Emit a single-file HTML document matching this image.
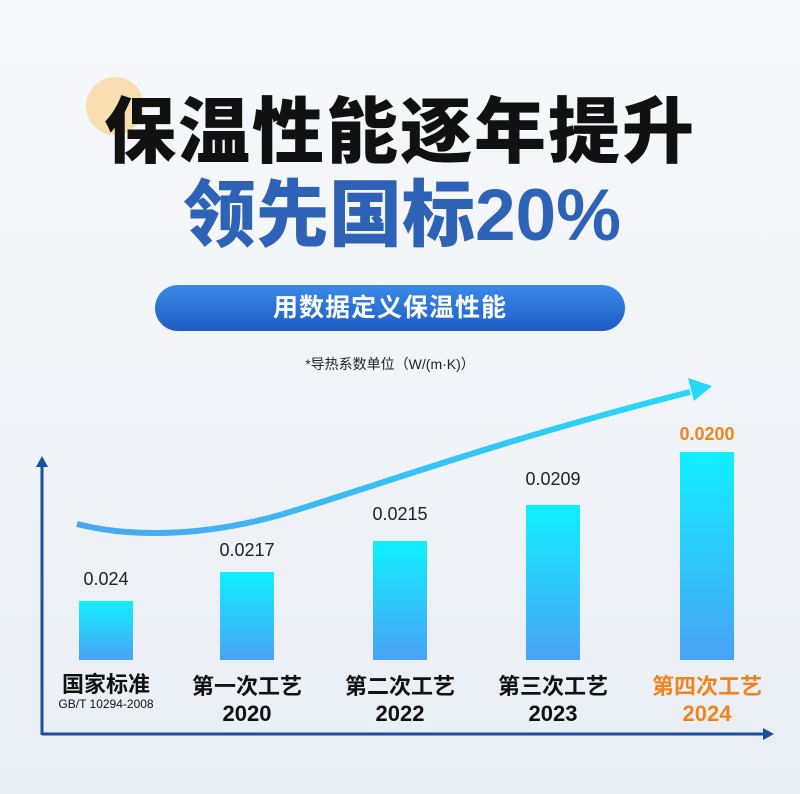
<!DOCTYPE html>
<html><head><meta charset="utf-8"><style>
html,body{margin:0;padding:0}
body{width:800px;height:794px;position:relative;overflow:hidden;background:linear-gradient(180deg,#f7f8fa 0%,#f1f4f8 50%,#e9eef5 100%);font-family:"Liberation Sans","Noto Sans CJK SC",sans-serif}
.a{position:absolute;white-space:nowrap}
.c{text-align:center;transform:translateX(-50%)}
.bar{position:absolute;width:54px;bottom:134px;background:linear-gradient(180deg,#0ff0fe,#4aa2f6)}
.v{font-size:18px;color:#222}
.cat{font-size:22px;font-weight:bold;color:#111;line-height:27px}
</style></head><body>
<div class="a" style="left:86px;top:77px;width:58px;height:58px;border-radius:50%;background:#f9deb2"></div>
<div class="a c" style="left:400px;top:88px;font-size:72px;font-weight:900;color:#111;letter-spacing:2px;line-height:90px">保温性能逐年提升</div>
<div class="a c" style="left:402px;top:173px;font-size:73px;font-weight:900;color:#2e62b6;line-height:86px">领先国标20%</div>
<div class="a" style="left:155px;top:285px;width:470px;height:46px;border-radius:23px;background:linear-gradient(180deg,#3a8ae8,#1f5bc4);color:#fff;font-size:25px;font-weight:bold;text-align:center;line-height:46px;letter-spacing:1px">用数据定义保温性能</div>
<div class="a c" style="left:390px;top:354px;font-size:14px;color:#222">*导热系数单位（W/(m·K)）</div>
<svg class="a" style="left:0;top:0" width="800" height="794">
<defs><linearGradient id="g" x1="0" x2="1"><stop offset="0" stop-color="#4ba6f2"/><stop offset="1" stop-color="#26d8f8"/></linearGradient></defs>
<path d="M77 524 C120 535 190 540 280 515 C380 485 500 440 690 392" fill="none" stroke="url(#g)" stroke-width="6"/>
<polygon points="712,386 688,378 694,401" fill="#26d8f8"/>
<line x1="42" y1="465" x2="42" y2="735" stroke="#1a4fa2" stroke-width="3"/>
<polygon points="42,456 36,467 48,467" fill="#1a4fa2"/>
<line x1="42" y1="734" x2="765" y2="734" stroke="#1a4fa2" stroke-width="3"/>
<polygon points="774,734 763,728 763,740" fill="#1a4fa2"/>
</svg>
<div class="bar" style="left:79px;height:59px"></div>
<div class="bar" style="left:220px;height:88px"></div>
<div class="bar" style="left:373px;height:119px"></div>
<div class="bar" style="left:526px;height:155px"></div>
<div class="bar" style="left:680px;height:208px"></div>
<div class="a c v" style="left:106px;top:569px">0.024</div>
<div class="a c v" style="left:247px;top:540px">0.0217</div>
<div class="a c v" style="left:400px;top:504px">0.0215</div>
<div class="a c v" style="left:553px;top:469px">0.0209</div>
<div class="a c v" style="left:707px;top:424px;color:#f0841c;font-weight:bold">0.0200</div>
<div class="a c cat" style="left:106px;top:671px">国家标准</div>
<div class="a c" style="left:106px;top:697px;font-size:12px;color:#111">GB/T 10294-2008</div>
<div class="a c cat" style="left:247px;top:673px">第一次工艺<br>2020</div>
<div class="a c cat" style="left:400px;top:673px">第二次工艺<br>2022</div>
<div class="a c cat" style="left:553px;top:673px">第三次工艺<br>2023</div>
<div class="a c cat" style="left:707px;top:673px;color:#f0841c">第四次工艺<br>2024</div>
</body></html>
